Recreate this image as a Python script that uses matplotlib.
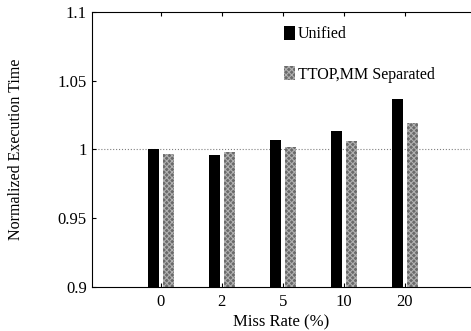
import numpy as np
import matplotlib.pyplot as plt

plt.rcParams['font.family'] = ['Liberation Serif', 'DejaVu Serif']
plt.rcParams['hatch.linewidth'] = 0.8

# data
miss_rates = ['0', '2', '5', '10', '20']
unified = [1.000, 0.996, 1.007, 1.0135, 1.037]
separated = [0.997, 0.998, 1.002, 1.0065, 1.019]

fig = plt.figure(figsize=(4.71, 3.31), dpi=100)
ax = fig.add_axes([0.195, 0.133, 0.803, 0.831])

x = np.arange(len(miss_rates))
w = 0.18
ax.bar(x - 0.12, unified, width=w, color='black', label='Unified')
ax.bar(x + 0.13, separated, width=w, color='#6a6a6a', hatch='xxxxxx',
       edgecolor='#b0b0b0', linewidth=0, label='TTOP,MM Separated')

# dotted reference line at 1
ax.axhline(1.0, color='gray', linestyle=':', linewidth=0.8, zorder=0)

ax.set_ylim(0.9, 1.1)
ax.set_xlim(-1.13, 5.07)
ax.set_yticks([0.9, 0.95, 1.0, 1.05, 1.1])
ax.set_yticklabels(['0.9', '0.95', '1', '1.05', '1.1'])
ax.set_xticks(x)
ax.set_xticklabels(miss_rates)
ax.tick_params(direction='in', labelsize=12, top=True, length=3, width=0.8)
ax.tick_params(axis='x', pad=5)
ax.spines['right'].set_visible(False)

ax.set_xlabel('Miss Rate (%)', fontsize=12, va='center')
ax.xaxis.set_label_coords(0.5, -0.128)
ax.set_ylabel('Normalized Execution Time', fontsize=11.5, va='center')
ax.yaxis.set_label_coords(-0.2, 0.5)

ax.legend(loc='upper left', bbox_to_anchor=(0.47, 1.0), frameon=False,
          fontsize=11.5, handlelength=0.7, handleheight=0.9, handletextpad=0.15,
          labelspacing=1.5)

fig.savefig('out.png', dpi=100)
